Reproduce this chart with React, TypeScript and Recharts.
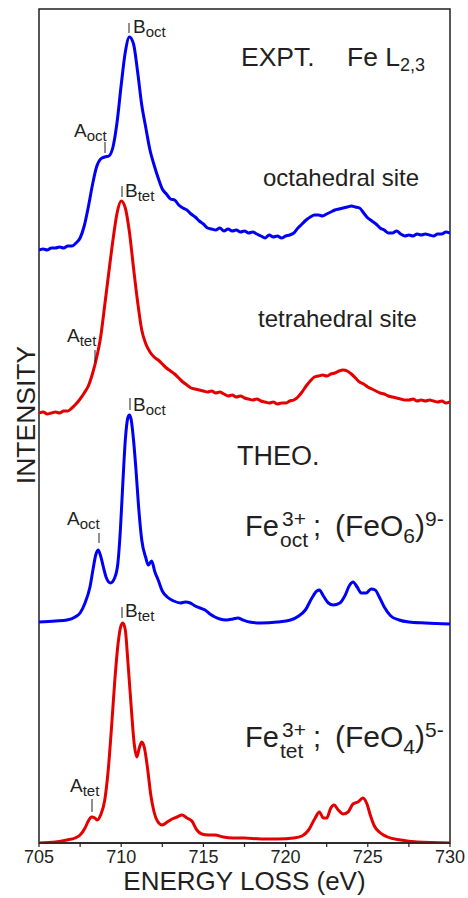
import { LineChart, Line, XAxis, YAxis, ReferenceArea } from 'recharts';

// experimental spectra share one energy grid (eV)
const exptEnergy = [
  705, 705.25, 705.5, 705.75, 706, 706.25, 706.5, 706.75, 707, 707.25,
  707.5, 707.75, 708, 708.25, 708.5, 708.75, 709, 709.25, 709.5, 709.75,
  710, 710.25, 710.5, 710.75, 711, 711.25, 711.5, 711.75, 712, 712.25,
  712.5, 712.75, 713, 713.25, 713.5, 713.75, 714, 714.25, 714.5, 714.75,
  715, 715.25, 715.5, 715.75, 716, 716.25, 716.5, 716.75, 717, 717.25,
  717.5, 717.75, 718, 718.25, 718.5, 718.75, 719, 719.25, 719.5, 719.75,
  720, 720.25, 720.5, 720.75, 721, 721.25, 721.5, 721.75, 722, 722.25,
  722.5, 722.75, 723, 723.25, 723.5, 723.75, 724, 724.25, 724.5, 724.75,
  725, 725.25, 725.5, 725.75, 726, 726.25, 726.5, 726.75, 727, 727.25,
  727.5, 727.75, 728, 728.25, 728.5, 728.75, 729, 729.25, 729.5, 729.75, 730,
];

// octahedral site, stacked (offset included)
const exptOctIntensity = [
  593, 594, 593, 595, 595, 596, 595, 597, 597, 600,
  605, 617, 636, 658, 676, 684, 686, 687, 696, 721,
  758, 791, 806, 799, 771, 738, 715, 693, 678, 665,
  654, 649, 644, 643, 638, 635, 633, 629, 626, 622,
  619, 615, 614, 613, 615, 612, 614, 612, 613, 611,
  612, 610, 611, 609, 607, 605, 608, 606, 607, 605,
  607, 608, 610, 615, 619, 623, 626, 628, 628, 627,
  629, 631, 633, 634, 635, 636, 637, 636, 635, 630,
  625, 622, 619, 615, 613, 610, 610, 612, 609, 607,
  608, 607, 609, 608, 609, 608, 607, 609, 609, 611, 610,
];

// tetrahedral site
const exptTetIntensity = [
  430, 431, 429, 430, 431, 430, 432, 432, 435, 439,
  444, 450, 457, 469, 485, 506, 538, 571, 603, 630,
  642, 635, 611, 575, 541, 513, 499, 491, 486, 483,
  479, 475, 472, 469, 465, 461, 458, 455, 454, 453,
  452, 451, 452, 450, 451, 449, 447, 448, 446, 447,
  445, 444, 443, 444, 442, 441, 440, 441, 439, 440,
  440, 442, 443, 446, 451, 457, 462, 466, 467, 468,
  467, 469, 470, 472, 473, 472, 469, 465, 461, 459,
  456, 454, 452, 450, 449, 447, 446, 445, 444, 443,
  443, 444, 442, 443, 442, 443, 442, 441, 442, 440, 441,
];

// theory: Fe3+ oct (FeO6)9-
const theoOctEnergy = [
  705, 706, 706.7, 707.2, 707.5, 707.8, 708.1, 708.3, 708.45, 708.6,
  708.75, 708.9, 709.1, 709.35, 709.6, 709.8, 709.95, 710.1, 710.25, 710.4,
  710.5, 710.6, 710.75, 710.9, 711.05, 711.25, 711.5, 711.65, 711.85, 712.05,
  712.25, 712.5, 712.8, 713.2, 713.6, 713.9, 714.2, 714.5, 714.8, 715.1,
  715.4, 715.7, 716, 716.4, 716.8, 717.1, 717.4, 717.8, 718.5, 719.5,
  720.3, 720.8, 721.2, 721.6, 721.9, 722.05, 722.3, 722.6, 722.9, 723.3,
  723.6, 723.9, 724.1, 724.35, 724.6, 724.9, 725.2, 725.45, 725.7, 726,
  726.4, 726.9, 727.5, 728.5, 730,
];
const theoOctIntensity = [
  221, 222, 223, 226, 230, 240, 256, 275, 288, 293,
  287, 277, 265, 260, 265, 280, 313, 360, 403, 425,
  428, 424, 403, 373, 338, 303, 285, 278, 282, 271,
  263, 252, 246, 242, 240, 241, 240, 237, 235, 233,
  229, 226, 224, 223, 224, 225, 223, 221, 220, 221,
  223, 227, 233, 245, 252, 253, 247, 240, 238, 240,
  247, 258, 261, 256, 250, 250, 254, 253, 246, 236,
  227, 223, 221, 220, 219,
];

// theory: Fe3+ tet (FeO4)5-
const theoTetEnergy = [
  705, 706, 706.7, 707.2, 707.5, 707.8, 708, 708.2, 708.4, 708.55,
  708.75, 709, 709.2, 709.4, 709.6, 709.8, 710, 710.1, 710.25, 710.4,
  710.6, 710.8, 710.95, 711.1, 711.25, 711.4, 711.6, 711.8, 712, 712.2,
  712.5, 712.8, 713.1, 713.4, 713.7, 714, 714.3, 714.6, 714.9, 715.3,
  715.7, 716.2, 716.8, 717.5, 718.5, 719.5, 720.5, 721, 721.4, 721.8,
  722.05, 722.3, 722.5, 722.75, 722.95, 723.2, 723.5, 723.8, 724.1, 724.4,
  724.7, 724.95, 725.15, 725.4, 725.7, 726.2, 727, 728, 730,
];
const theoTetIntensity = [
  0, 1, 3, 5, 8, 15, 22, 26, 25, 23,
  28, 43, 71, 113, 160, 198, 218, 220, 213, 183,
  138, 98, 86, 95, 101, 96, 75, 48, 31, 22,
  18, 21, 24, 26, 28, 25, 22, 13, 9, 8,
  8, 6, 5, 5, 4, 4, 5, 7, 13, 25,
  31, 25, 25, 35, 38, 33, 29, 31, 39, 41,
  45, 39, 28, 17, 11, 6, 3, 1, 0,
];

const energyTicks = [705, 707.5, 710, 712.5, 715, 717.5, 720, 722.5, 725, 727.5, 730];

const toPoints = (xs: number[], ys: number[]) =>
  xs.map((energy, i) => ({ energy, intensity: ys[i] }));

const BLUE = '#0000f5';
const RED = '#e40000';
const INK = '#231f20';
const FONT = "'Liberation Sans', Arial, Helvetica, sans-serif";

type PeakProps = { x: number; y: number; main: string; sub: string; mx: number; my1: number; my2: number };

function PeakLabel({ x, y, main, sub, mx, my1, my2 }: PeakProps) {
  return (
    <g>
      <line x1={mx} x2={mx} y1={my1} y2={my2} stroke={INK} strokeWidth={1} />
      <text x={x} y={y} fontSize={19} fill={INK}>
        {main}
        <tspan fontSize={15} dy={4}>{sub}</tspan>
      </text>
    </g>
  );
}

function Formula({ y, site, n, charge }: { y: number; site: string; n: string; charge: string }) {
  return (
    <g fill={INK}>
      <text x={245} y={y} fontSize={29}>Fe</text>
      <text x={282} y={y - 10} fontSize={21}>3+</text>
      <text x={280} y={y + 11} fontSize={21}>{site}</text>
      <text x={313} y={y} fontSize={29}>;</text>
      <text x={335} y={y} fontSize={30}>
        (FeO
        <tspan fontSize={21} dy={7}>{n}</tspan>
        <tspan dy={-7}>)</tspan>
        <tspan fontSize={21} dy={-10}>{charge}</tspan>
      </text>
    </g>
  );
}

export default function App() {
  const lineProps = {
    xAxisId: 'bottom',
    yAxisId: 'i',
    dataKey: 'intensity',
    type: 'monotone' as const,
    strokeWidth: 3,
    dot: false,
    isAnimationActive: false,
  };

  return (
    <div style={{ position: 'fixed', left: 0, top: 0, width: 468, height: 898, background: '#fff', fontFamily: FONT }}>
      <LineChart width={468} height={898} margin={{ top: 9, right: 18, left: 39, bottom: 0 }}>
        <XAxis
          xAxisId="bottom"
          dataKey="energy"
          type="number"
          domain={[705, 730]}
          ticks={energyTicks}
          allowDataOverflow
          height={55}
          tickSize={4}
          tickMargin={3}
          interval={0}
          tickFormatter={(v: number) => (v % 5 === 0 ? String(v) : '')}
          tick={{ fontSize: 18, fill: INK, fontFamily: FONT }}
          tickLine={{ stroke: INK, strokeWidth: 1.2 }}
          axisLine={{ stroke: INK, strokeWidth: 1.5 }}
          label={{
            value: 'ENERGY LOSS (eV)',
            position: 'insideBottom',
            offset: 8,
            fontSize: 26,
            fill: INK,
            fontFamily: FONT,
          }}
        />
        <XAxis
          xAxisId="top"
          orientation="top"
          type="number"
          domain={[705, 730]}
          ticks={energyTicks}
          height={0}
          mirror
          tick={false}
          tickSize={4}
          interval={0}
          axisLine={false}
          tickLine={{ stroke: INK, strokeWidth: 1.2 }}
        />
        <YAxis yAxisId="i" type="number" domain={[0, 834]} allowDataOverflow hide />
        <ReferenceArea
          xAxisId="bottom"
          yAxisId="i"
          x1={705}
          x2={730}
          y1={0}
          y2={834}
          fill="none"
          stroke={INK}
          strokeWidth={1.5}
          ifOverflow="visible"
        />
        <Line {...lineProps} data={toPoints(exptEnergy, exptOctIntensity)} stroke={BLUE} />
        <Line {...lineProps} data={toPoints(exptEnergy, exptTetIntensity)} stroke={RED} />
        <Line {...lineProps} data={toPoints(theoOctEnergy, theoOctIntensity)} stroke={BLUE} />
        <Line {...lineProps} data={toPoints(theoTetEnergy, theoTetIntensity)} stroke={RED} />
      </LineChart>

      <svg
        width={468}
        height={898}
        style={{ position: 'absolute', left: 0, top: 0, pointerEvents: 'none', fontFamily: FONT }}
      >
        <text transform="translate(35,415) rotate(-90)" textAnchor="middle" fontSize={26.5} fill={INK}>
          INTENSITY
        </text>

        <text x={241} y={66} fontSize={26.5} fill={INK}>EXPT.</text>
        <text x={347} y={66} fontSize={26.5} fill={INK}>
          Fe L<tspan fontSize={18} dy={5}>2,3</tspan>
        </text>
        <text x={263} y={186} fontSize={24} fill={INK}>octahedral site</text>
        <text x={258} y={327} fontSize={24} fill={INK}>tetrahedral site</text>
        <text x={237} y={465} fontSize={27} fill={INK}>THEO.</text>

        <Formula y={536} site="oct" n="6" charge="9-" />
        <Formula y={747} site="tet" n="4" charge="5-" />

        <PeakLabel x={133} y={33} main="B" sub="oct" mx={129} my1={23} my2={33} />
        <PeakLabel x={74} y={137} main="A" sub="oct" mx={105} my1={142} my2={153} />
        <PeakLabel x={125} y={197} main="B" sub="tet" mx={122} my1={186} my2={197} />
        <PeakLabel x={67} y={342} main="A" sub="tet" mx={95} my1={350} my2={362} />
        <PeakLabel x={133} y={411} main="B" sub="oct" mx={130} my1={398} my2={410} />
        <PeakLabel x={67} y={525} main="A" sub="oct" mx={99} my1={533} my2={543} />
        <PeakLabel x={125} y={617} main="B" sub="tet" mx={122} my1={607} my2={618} />
        <PeakLabel x={70} y={792} main="A" sub="tet" mx={92} my1={799} my2={812} />
      </svg>
    </div>
  );
}
